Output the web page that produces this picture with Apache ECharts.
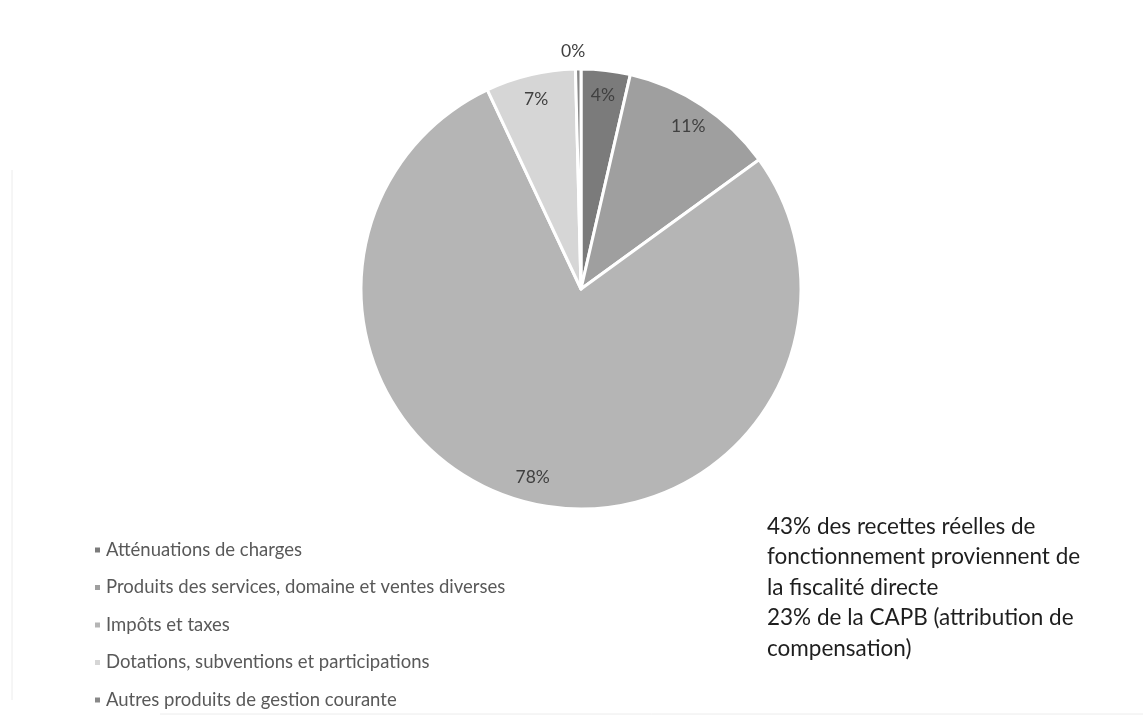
<!DOCTYPE html>
<html>
<head>
<meta charset="utf-8">
<script src="https://cdn.jsdelivr.net/npm/echarts@6/dist/echarts.min.js"></script>
<style>
  html, body { margin: 0; padding: 0; background: #ffffff; }
  #chart { width: 1143px; height: 720px; }
</style>
</head>
<body>
<div id="chart"></div>
<script>
// Recettes réelles de fonctionnement, parts par chapitre (%)
const categories = [
  'Atténuations de charges',
  'Produits des services, domaine et ventes diverses',
  'Impôts et taxes',
  'Dotations, subventions et participations',
  'Autres produits de gestion courante'
];
const shares = [3.6, 11.4, 78.0, 6.6, 0.4];
const sliceColors = ['#7b7b7b', '#9f9f9f', '#b5b5b5', '#d6d6d6', '#888888'];
const noteLines = [
  '43% des recettes réelles de',
  'fonctionnement proviennent de',
  'la fiscalité directe',
  '23% de la CAPB (attribution de',
  'compensation)'
];

const center = [581, 289];
const outerR = 220;

const sliceData = categories.map((name, i) => ({
  name: name,
  value: shares[i],
  itemStyle: { color: sliceColors[i] }
}));

// Labels sit in an invisible ring near the rim of the pie;
// near-empty slices get their label just outside the rim
const labelData = categories.map((name, i) => {
  const item = { name: name, value: shares[i], itemStyle: { color: 'rgba(0,0,0,0)' } };
  if (shares[i] < 1) {
    item.label = { position: 'outside', distance: 6 };
    item.labelLine = { show: false, length: 8, length2: 0 };
  }
  return item;
});

const chart = echarts.init(document.getElementById('chart'), null, { renderer: 'canvas' });
chart.setOption({
  animation: false,
  backgroundColor: '#ffffff',
  color: sliceColors,
  legend: {
    orient: 'vertical',
    left: 88,
    top: 535,
    icon: 'rect',
    itemWidth: 7,
    itemHeight: 7,
    itemGap: 17.5,
    data: categories,
    textStyle: { fontFamily: 'Lato', fontSize: 18.5, color: '#595959', lineHeight: 20 }
  },
  title: {
    text: noteLines.join('\n'),
    left: 762,
    top: 506,
    textStyle: {
      fontFamily: 'Lato',
      fontSize: 22.5,
      fontWeight: 'normal',
      color: '#1e1e1e',
      lineHeight: 30.5
    }
  },
  graphic: [
    { type: 'line', shape: { x1: 12, y1: 170, x2: 12, y2: 700 }, style: { stroke: '#ececec', lineWidth: 1 }, silent: true },
    { type: 'line', shape: { x1: 160, y1: 714, x2: 1143, y2: 714 }, style: { stroke: '#ececec', lineWidth: 1 }, silent: true }
  ],
  series: [
    {
      type: 'pie',
      center: center,
      radius: [0, outerR],
      startAngle: 90,
      clockwise: true,
      silent: true,
      label: { show: false },
      labelLine: { show: false },
      itemStyle: { borderColor: '#ffffff', borderWidth: 3 },
      data: sliceData
    },
    {
      type: 'pie',
      center: center,
      radius: [outerR * 0.74, outerR],
      startAngle: 90,
      clockwise: true,
      silent: true,
      percentPrecision: 0,
      label: {
        show: true,
        position: 'inside',
        formatter: '{d}%',
        fontFamily: 'Lato',
        fontSize: 17.5,
        color: '#404040'
      },
      labelLine: { show: false },
      labelLayout: function (params) {
        if (shares[params.dataIndex] < 1) {
          return { align: 'center', dy: -10 };
        }
        return {};
      },
      data: labelData
    }
  ]
});
</script>
</body>
</html>
